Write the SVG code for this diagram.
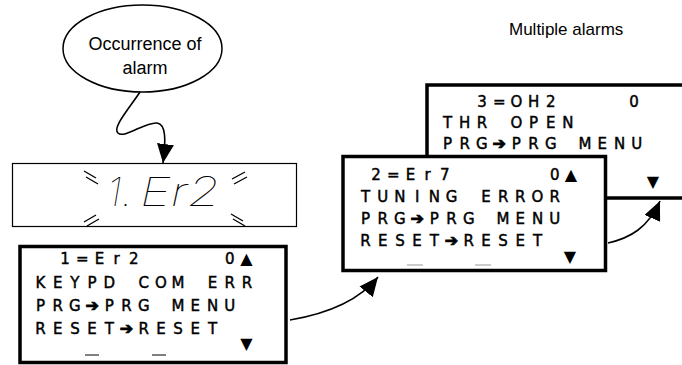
<svg xmlns="http://www.w3.org/2000/svg" width="682" height="365" viewBox="0 0 682 365">
<style>
.lbl{font-family:"Liberation Sans",Arial,sans-serif;font-size:17px;fill:#000}
.big{font-size:18px}
.lcd{font-family:"DejaVu Sans","Liberation Sans",sans-serif;font-size:15px;fill:#000;stroke:#000;stroke-width:0.45;text-anchor:middle}
.sym{font-family:"DejaVu Sans","Liberation Sans",sans-serif;font-size:16px;fill:#000;text-anchor:middle}
.arr{font-family:"DejaVu Sans","Liberation Sans",sans-serif;font-size:16px;font-weight:bold;fill:#000;stroke:#000;stroke-width:0.9;text-anchor:middle}
.panel{fill:#fff;stroke:#000;stroke-width:3.5}
.led{fill:#fff;stroke:#000;stroke-width:1.2}
.seg{font-family:"Inter","Roboto","DejaVu Sans",sans-serif;font-size:40px;font-style:italic;font-weight:100;fill:#000}
.spark{stroke:#000;stroke-width:1.3;fill:none}
.us{stroke:#000;stroke-width:1}
.us2{stroke:#999;stroke-width:1}
.conn{fill:none;stroke:#000;stroke-width:1.6}
</style>
<defs>
<marker id="ah" viewBox="0 0 19 17" refX="19" refY="8.5" markerWidth="19" markerHeight="17" markerUnits="userSpaceOnUse" orient="auto">
<path d="M0,0 L19,8.5 L0,17 z" fill="#000"/>
</marker>
</defs>

<text class="lbl" x="509" y="35">Multiple alarms</text>

<g id="event">
<ellipse cx="142.5" cy="48.5" rx="79.5" ry="43.5" fill="#fff" stroke="#000" stroke-width="1.5"/>
<text class="lbl big" x="145" y="50" text-anchor="middle">Occurrence of</text>
<text class="lbl big" x="145" y="74" text-anchor="middle">alarm</text>
</g>

<g id="led-display">
<rect class="led" x="12.5" y="163.5" width="284" height="63"/>
<text class="seg" x="107" y="206">1.</text>
<text class="seg" x="140" y="206" textLength="80" lengthAdjust="spacingAndGlyphs">Er2</text>
<path class="spark" d="M84,171 L96,178 M86,177 L98,184"/>
<path class="spark" d="M232,179 L245,172 M234,184 L247,177"/>
<path class="spark" d="M84,222 L96,215 M87,226 L99,219"/>
<path class="spark" d="M231,214 L243,221 M233,219 L245,226"/>
</g>

<g id="alarm3">
<rect class="panel" x="427" y="85" width="300" height="113"/>
<text class="lcd" x="482 499.2 516.4 533.6 550.8" y="107">3=OH2</text>
<text class="lcd" x="634" y="107">0</text>
<text class="lcd" x="447.5 464.7 481.9 499.1 516.3 533.5 550.7 567.9" y="128">THR OPEN</text>
<text class="lcd" x="447.5 464.7 481.9" y="149">PRG</text>
<text class="arr" x="499.1" y="149">➔</text>
<text class="lcd" x="516.3 533.5 550.7 567.9 585.1 602.3 619.5 636.7" y="149">PRG MENU</text>
<text class="sym" x="653" y="187">▼</text>
</g>

<g id="alarm2">
<rect class="panel" x="343" y="156.5" width="262.5" height="114"/>
<text class="lcd" x="376 393.2 410.4 427.6 444.8" y="180">2=Er7</text>
<text class="lcd" x="554.7" y="180">0</text>
<text class="sym" x="571" y="180">▲</text>
<text class="lcd" x="365.5 382.7 399.9 417.1 434.3 451.5 468.7 485.9 503.1 520.3 537.5 554.7" y="202">TUNING ERROR</text>
<text class="lcd" x="365.5 382.7 399.9" y="224">PRG</text>
<text class="arr" x="417.1" y="224">➔</text>
<text class="lcd" x="434.3 451.5 468.7 485.9 503.1 520.3 537.5 554.7" y="224">PRG MENU</text>
<text class="lcd" x="365.5 382.7 399.9 417.1 434.3" y="246">RESET</text>
<text class="arr" x="451.5" y="246">➔</text>
<text class="lcd" x="468.7 485.9 503.1 520.3 537.5" y="246">RESET</text>
<text class="sym" x="570" y="262">▼</text>
<line class="us2" x1="407" y1="265" x2="423" y2="265"/>
<line class="us2" x1="475" y1="265" x2="491" y2="265"/>
</g>

<g id="alarm1">
<rect class="panel" x="20" y="246.5" width="266" height="116"/>
<text class="lcd" x="65 82.2 99.4 116.6 133.8" y="264">1=Er2</text>
<text class="lcd" x="229.7" y="264">0</text>
<text class="sym" x="246.5" y="264">▲</text>
<text class="lcd" x="40.5 57.7 74.9 92.1 109.3 126.5 143.7 160.9 178.1 195.3 212.5 229.7 246.9" y="288">KEYPD COM ERR</text>
<text class="lcd" x="40.5 57.7 74.9" y="311">PRG</text>
<text class="arr" x="92.1" y="311">➔</text>
<text class="lcd" x="109.3 126.5 143.7 160.9 178.1 195.3 212.5 229.7" y="311">PRG MENU</text>
<text class="lcd" x="40.5 57.7 74.9 92.1 109.3" y="334">RESET</text>
<text class="arr" x="126.5" y="334">➔</text>
<text class="lcd" x="143.7 160.9 178.1 195.3 212.5" y="334">RESET</text>
<text class="sym" x="246.5" y="349">▼</text>
<line class="us" x1="85" y1="355" x2="99" y2="355"/>
<line class="us" x1="152" y1="355" x2="166" y2="355"/>
</g>

<g id="connectors">
<path class="conn" d="M140,92 C128,110 112,128 118,133 C124,139 145,122 157,123 C166,124 166,140 163,163" marker-end="url(#ah)"/>
<path class="conn" d="M290,320 C325,314 358,302 378,277" marker-end="url(#ah)"/>
<path class="conn" d="M608,243 C630,238 648,228 660,201" marker-end="url(#ah)"/>
</g>
</svg>
